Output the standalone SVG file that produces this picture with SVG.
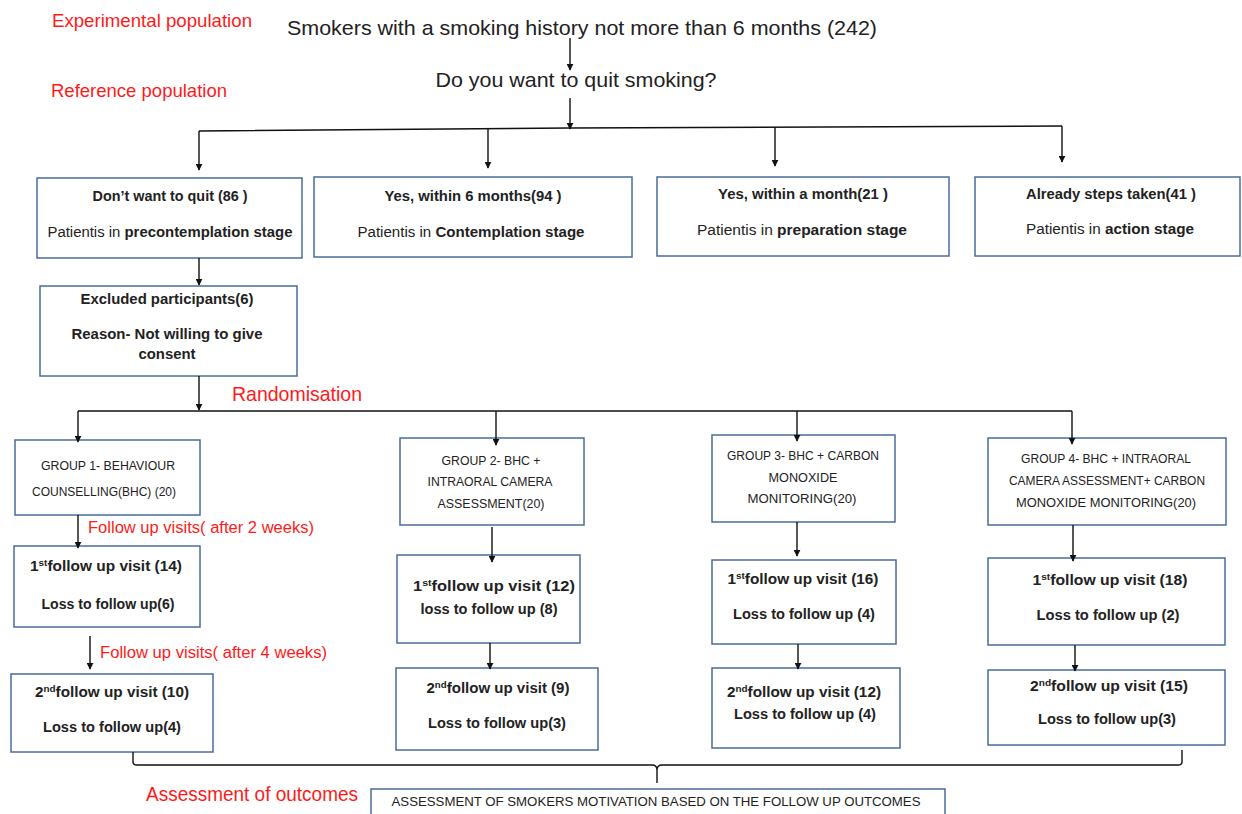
<svg xmlns="http://www.w3.org/2000/svg" width="1242" height="814" viewBox="0 0 1242 814">
<style>
.box{fill:#fff;stroke:#4a6b9c;stroke-width:1.5}
.ln{fill:none;stroke:#111;stroke-width:1.4}
.t{font-family:"Liberation Sans",Arial,sans-serif;fill:#222;text-anchor:middle}
.b{font-weight:bold}
.r{font-family:"Liberation Sans",Arial,sans-serif;fill:#ff1a1a;text-anchor:start}
.g{font-family:"Liberation Sans",Arial,sans-serif;fill:#222;text-anchor:middle;font-size:12.5px}
.f{font-family:"Liberation Sans",Arial,sans-serif;fill:#222;text-anchor:middle;font-size:14px;font-weight:bold}
</style>
<defs>
<marker id="ah" viewBox="0 0 10 10" refX="9" refY="5" markerWidth="7" markerHeight="7" orient="auto" markerUnits="userSpaceOnUse">
<path d="M0,0 L10,5 L0,10 z" fill="#111"/>
</marker>
</defs>

<g id="labels">
<text class="r" x="52" y="27" font-size="19" textLength="200" lengthAdjust="spacingAndGlyphs">Experimental population</text>
<text class="r" x="51" y="97" font-size="19" textLength="176" lengthAdjust="spacingAndGlyphs">Reference population</text>
<text class="r" x="232" y="401" font-size="21" textLength="130" lengthAdjust="spacingAndGlyphs">Randomisation</text>
<text class="r" x="88" y="533" font-size="16" textLength="226" lengthAdjust="spacingAndGlyphs">Follow up visits( after 2 weeks)</text>
<text class="r" x="100" y="658" font-size="16" textLength="227" lengthAdjust="spacingAndGlyphs">Follow up visits( after 4 weeks)</text>
<text class="r" x="146" y="801" font-size="21" textLength="212" lengthAdjust="spacingAndGlyphs">Assessment of outcomes</text>
</g>

<g id="top">
<text class="t" x="582" y="35" font-size="21" textLength="590" lengthAdjust="spacingAndGlyphs">Smokers  with a smoking history not more than 6 months  (242)</text>
</g>
<g id="question">
<text class="t" x="576" y="87" font-size="21" textLength="281" lengthAdjust="spacingAndGlyphs">Do you want to quit smoking?</text>
</g>

<g id="n-dont">
<rect class="box" x="37" y="178" width="265" height="80"/>
<text class="t b" x="170" y="201" font-size="14" textLength="155" lengthAdjust="spacingAndGlyphs">Don’t want to quit (86 )</text>
<text class="t" x="170" y="237" font-size="14" textLength="245" lengthAdjust="spacingAndGlyphs">Patientis in <tspan class="b">precontemplation stage</tspan></text>
</g>
<g id="n-6months">
<rect class="box" x="314" y="177" width="318" height="80"/>
<text class="t b" x="473" y="201" font-size="14" textLength="177" lengthAdjust="spacingAndGlyphs">Yes, within 6 months(94 )</text>
<text class="t" x="471" y="237" font-size="14" textLength="227" lengthAdjust="spacingAndGlyphs">Patientis in <tspan class="b">Contemplation stage</tspan></text>
</g>
<g id="n-month">
<rect class="box" x="657" y="177" width="292" height="79"/>
<text class="t b" x="803" y="199" font-size="14" textLength="170" lengthAdjust="spacingAndGlyphs">Yes, within a month(21 )</text>
<text class="t" x="802" y="235" font-size="14" textLength="210" lengthAdjust="spacingAndGlyphs">Patientis in <tspan class="b">preparation  stage</tspan></text>
</g>
<g id="n-already">
<rect class="box" x="975" y="177" width="265" height="79"/>
<text class="t b" x="1111" y="199" font-size="14" textLength="170" lengthAdjust="spacingAndGlyphs">Already steps taken(41 )</text>
<text class="t" x="1110" y="234" font-size="14" textLength="168" lengthAdjust="spacingAndGlyphs">Patientis in <tspan class="b">action stage</tspan></text>
</g>

<g id="n-excluded">
<rect class="box" x="40" y="286" width="257" height="90"/>
<text class="t b" x="167" y="304" font-size="14" textLength="173" lengthAdjust="spacingAndGlyphs">Excluded participants(6)</text>
<text class="t b" x="167" y="339" font-size="14" textLength="191" lengthAdjust="spacingAndGlyphs">Reason- Not willing to give</text>
<text class="t b" x="167" y="359" font-size="14" textLength="57" lengthAdjust="spacingAndGlyphs">consent</text>
</g>

<g id="n-group1">
<rect class="box" x="15" y="440" width="185" height="75"/>
<text class="g" x="108" y="470" textLength="134" lengthAdjust="spacingAndGlyphs">GROUP 1- BEHAVIOUR</text>
<text class="g" x="104" y="496" textLength="144" lengthAdjust="spacingAndGlyphs">COUNSELLING(BHC) (20)</text>
</g>
<g id="n-group2">
<rect class="box" x="400" y="438" width="184" height="87"/>
<text class="g" x="491" y="465" textLength="99" lengthAdjust="spacingAndGlyphs">GROUP 2- BHC +</text>
<text class="g" x="490" y="486" textLength="125" lengthAdjust="spacingAndGlyphs">INTRAORAL CAMERA</text>
<text class="g" x="491" y="508" textLength="107" lengthAdjust="spacingAndGlyphs">ASSESSMENT(20)</text>
</g>
<g id="n-group3">
<rect class="box" x="712" y="435" width="183" height="87"/>
<text class="g" x="803" y="460" textLength="152" lengthAdjust="spacingAndGlyphs">GROUP 3- BHC + CARBON</text>
<text class="g" x="803" y="482" textLength="69" lengthAdjust="spacingAndGlyphs">MONOXIDE</text>
<text class="g" x="802" y="503" textLength="109" lengthAdjust="spacingAndGlyphs">MONITORING(20)</text>
</g>
<g id="n-group4">
<rect class="box" x="988" y="438" width="238" height="87"/>
<text class="g" x="1106" y="463" textLength="170" lengthAdjust="spacingAndGlyphs">GROUP 4- BHC + INTRAORAL</text>
<text class="g" x="1107" y="485" textLength="196" lengthAdjust="spacingAndGlyphs">CAMERA ASSESSMENT+ CARBON</text>
<text class="g" x="1106" y="507" textLength="180" lengthAdjust="spacingAndGlyphs">MONOXIDE MONITORING(20)</text>
</g>

<g id="n-g1-v1">
<rect class="box" x="14" y="546" width="186" height="81"/>
<text class="f" x="106" y="571" textLength="152" lengthAdjust="spacingAndGlyphs">1<tspan font-size="9" dy="-5">st</tspan><tspan dy="5">follow up visit (14)</tspan></text>
<text class="f" x="108" y="609" textLength="133" lengthAdjust="spacingAndGlyphs">Loss to follow up(6)</text>
</g>
<g id="n-g1-v2">
<rect class="box" x="11" y="674" width="202" height="78"/>
<text class="f" x="112" y="697" textLength="154" lengthAdjust="spacingAndGlyphs">2<tspan font-size="9" dy="-5">nd</tspan><tspan dy="5">follow up visit (10)</tspan></text>
<text class="f" x="112" y="732" textLength="138" lengthAdjust="spacingAndGlyphs">Loss to follow up(4)</text>
</g>
<g id="n-g2-v1">
<rect class="box" x="397" y="555" width="183" height="88"/>
<text class="f" x="494" y="591" textLength="162" lengthAdjust="spacingAndGlyphs">1<tspan font-size="9" dy="-5">st</tspan><tspan dy="5">follow up visit (12)</tspan></text>
<text class="f" x="489" y="614" textLength="137" lengthAdjust="spacingAndGlyphs">loss to follow up (8)</text>
</g>
<g id="n-g2-v2">
<rect class="box" x="396" y="668" width="202" height="82"/>
<text class="f" x="498" y="693" textLength="143" lengthAdjust="spacingAndGlyphs">2<tspan font-size="9" dy="-5">nd</tspan><tspan dy="5">follow up visit (9)</tspan></text>
<text class="f" x="497" y="728" textLength="138" lengthAdjust="spacingAndGlyphs">Loss to follow up(3)</text>
</g>
<g id="n-g3-v1">
<rect class="box" x="712" y="560" width="184" height="84"/>
<text class="f" x="803" y="584" textLength="151" lengthAdjust="spacingAndGlyphs">1<tspan font-size="9" dy="-5">st</tspan><tspan dy="5">follow up visit (16)</tspan></text>
<text class="f" x="804" y="619" textLength="142" lengthAdjust="spacingAndGlyphs">Loss to follow up (4)</text>
</g>
<g id="n-g3-v2">
<rect class="box" x="712" y="668" width="188" height="80"/>
<text class="f" x="804" y="697" textLength="154" lengthAdjust="spacingAndGlyphs">2<tspan font-size="9" dy="-5">nd</tspan><tspan dy="5">follow up visit (12)</tspan></text>
<text class="f" x="805" y="719" textLength="142" lengthAdjust="spacingAndGlyphs">Loss to follow up (4)</text>
</g>
<g id="n-g4-v1">
<rect class="box" x="988" y="558" width="237" height="87"/>
<text class="f" x="1110" y="585" textLength="155" lengthAdjust="spacingAndGlyphs">1<tspan font-size="9" dy="-5">st</tspan><tspan dy="5">follow up visit (18)</tspan></text>
<text class="f" x="1108" y="620" textLength="143" lengthAdjust="spacingAndGlyphs">Loss to follow up (2)</text>
</g>
<g id="n-g4-v2">
<rect class="box" x="988" y="670" width="237" height="75"/>
<text class="f" x="1109" y="691" textLength="158" lengthAdjust="spacingAndGlyphs">2<tspan font-size="9" dy="-5">nd</tspan><tspan dy="5">follow up visit (15)</tspan></text>
<text class="f" x="1107" y="724" textLength="138" lengthAdjust="spacingAndGlyphs">Loss to follow up(3)</text>
</g>

<g id="n-assessment">
<rect class="box" x="371" y="789" width="574" height="40"/>
<text class="g" x="656" y="806" font-size="12" textLength="529" lengthAdjust="spacingAndGlyphs">ASSESSMENT  OF SMOKERS MOTIVATION  BASED ON THE FOLLOW UP OUTCOMES</text>
</g>

<g id="connectors">
<line class="ln" x1="570" y1="38" x2="570" y2="70" marker-end="url(#ah)"/>
<line class="ln" x1="570" y1="98" x2="570" y2="129" marker-end="url(#ah)"/>
<polyline class="ln" points="199,131 570,128 1062,126"/>
<line class="ln" x1="199" y1="131" x2="199" y2="170" marker-end="url(#ah)"/>
<line class="ln" x1="488" y1="129" x2="488" y2="168" marker-end="url(#ah)"/>
<line class="ln" x1="775" y1="127" x2="775" y2="166" marker-end="url(#ah)"/>
<line class="ln" x1="1062" y1="126" x2="1062" y2="162" marker-end="url(#ah)"/>
<line class="ln" x1="199" y1="258" x2="199" y2="285" marker-end="url(#ah)"/>
<line class="ln" x1="199" y1="376" x2="199" y2="410" marker-end="url(#ah)"/>
<line class="ln" x1="78" y1="411" x2="1072" y2="411"/>
<line class="ln" x1="78" y1="411" x2="78" y2="442" marker-end="url(#ah)"/>
<line class="ln" x1="496" y1="411" x2="496" y2="445" marker-end="url(#ah)"/>
<line class="ln" x1="797" y1="411" x2="797" y2="441" marker-end="url(#ah)"/>
<line class="ln" x1="1072" y1="411" x2="1072" y2="444" marker-end="url(#ah)"/>
<line class="ln" x1="78" y1="515" x2="78" y2="548" marker-end="url(#ah)"/>
<line class="ln" x1="90" y1="636" x2="90" y2="669" marker-end="url(#ah)"/>
<line class="ln" x1="492" y1="527" x2="492" y2="562" marker-end="url(#ah)"/>
<line class="ln" x1="490" y1="643" x2="490" y2="669" marker-end="url(#ah)"/>
<line class="ln" x1="797" y1="522" x2="797" y2="556" marker-end="url(#ah)"/>
<line class="ln" x1="798" y1="644" x2="798" y2="669" marker-end="url(#ah)"/>
<line class="ln" x1="1073" y1="525" x2="1073" y2="561" marker-end="url(#ah)"/>
<line class="ln" x1="1075" y1="645" x2="1075" y2="671" marker-end="url(#ah)"/>
<path class="ln" d="M133,752 L133,762 Q133,765 137,765 L652,765 Q657,765 657,770 L657,783 L657,770 Q657,765 662,765 L1178,765 Q1182,765 1182,762 L1182,750"/>
</g>
</svg>
